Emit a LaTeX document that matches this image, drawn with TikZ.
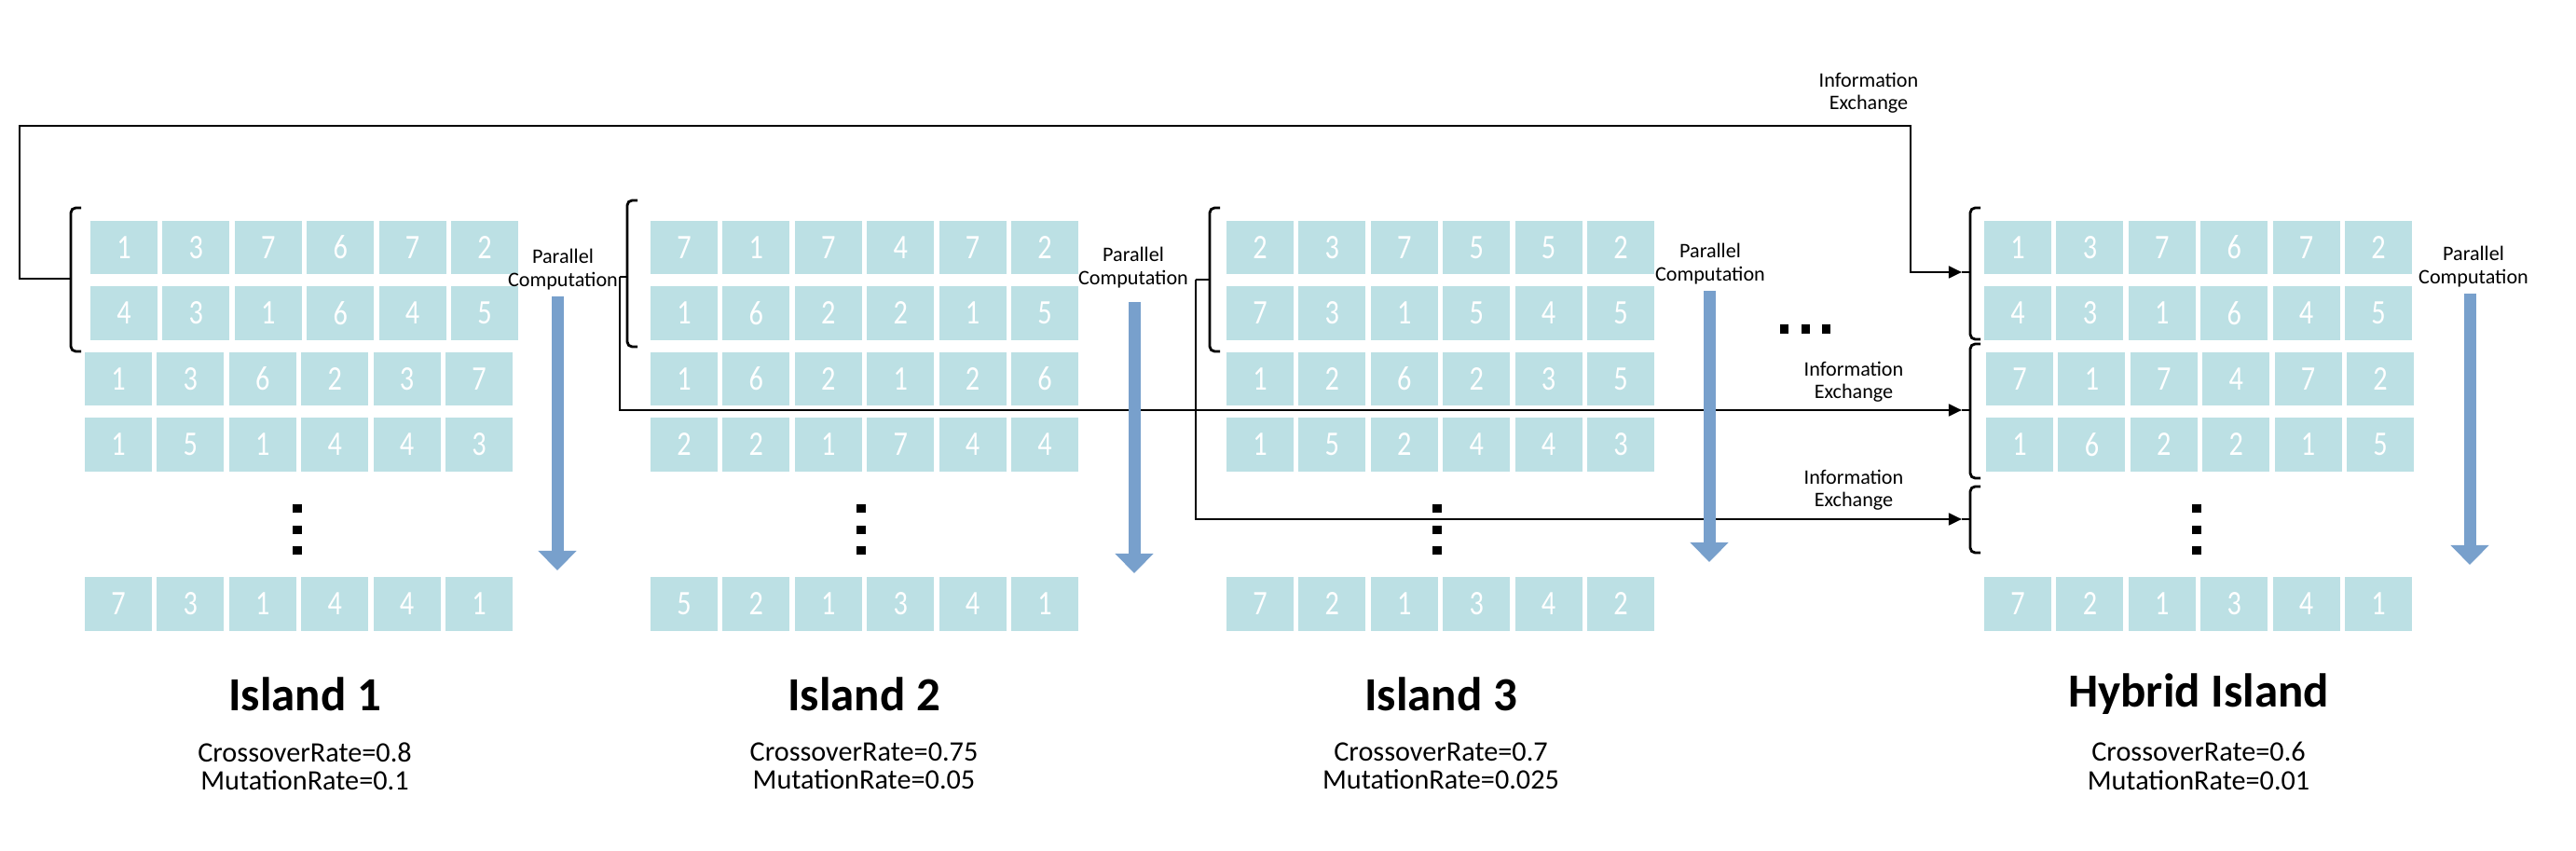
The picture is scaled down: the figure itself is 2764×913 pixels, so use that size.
\documentclass[tikz,border=0pt]{standalone}
\usepackage{fontspec}
\setmainfont{Carlito}
\newfontfamily\cellfont[FakeStretch=0.82]{Carlito}
\usetikzlibrary{arrows.meta}

\definecolor{cellfill}{RGB}{188,224,228}
\definecolor{flowblue}{RGB}{120,160,204}

% one row of genes: name, left edge, centre y, values
\newcommand{\CellRow}[4]{
    \foreach \v [count=\c] in {#4}
        \node[cell] (#1c\c) at ({#2+36+(\c-1)*77.4},#3) {\v};
}
% square bracket: tip name, x, top, bottom, tip y, tip x
\newcommand{\Bracket}[6]{
    \draw[link, rounded corners=1.5pt] (#2+11,#3) -- (#2,#3) -- (#2,#4) -- (#2+11,#4);
    \draw[link] (#2,#5) -- (#6,#5) coordinate (#1);
}
% vertical dots
\newcommand{\VDots}[1]{
    \foreach \dy in {546,569,591}
        \fill (#1-5,\dy-4.5) rectangle ++(10,9);
}

\begin{document}
\begin{tikzpicture}[x=0.01cm, y=-0.01cm,
    cell/.style={fill=cellfill, text=white, minimum width=0.72cm, minimum height=0.57cm,
        inner sep=0pt, font=\cellfont\fontsize{10.5}{10.5}\selectfont},
    link/.style={line width=0.8pt},
    tipto/.style={link, -{Triangle[length=4pt, width=3.6pt]}},
    flow/.style={draw=flowblue, line width=3.7pt, -{Triangle[length=6pt, width=11.4pt]}},
    note/.style={align=center, inner sep=0pt, font=\fontsize{6.3}{6.9}\selectfont},
    title/.style={inner sep=0pt, font=\fontsize{14.5}{14.5}\selectfont\bfseries},
    rates/.style={align=center, inner sep=0pt, font=\fontsize{8.6}{8.6}\selectfont}]
    \useasboundingbox (0,0) rectangle (2764,913);

    % Island 1
    \CellRow{ia}{97}{265.5}{1,3,7,6,7,2}
    \CellRow{ib}{97}{336}{4,3,1,6,4,5}
    \CellRow{ic}{91}{406.5}{1,3,6,2,3,7}
    \CellRow{id}{91}{477}{1,5,1,4,4,3}
    \CellRow{ie}{91}{648}{7,3,1,4,4,1}
    \VDots{319}

    % Island 2
    \CellRow{iia}{698}{265.5}{7,1,7,4,7,2}
    \CellRow{iib}{698}{336}{1,6,2,2,1,5}
    \CellRow{iic}{698}{406.5}{1,6,2,1,2,6}
    \CellRow{iid}{698}{477}{2,2,1,7,4,4}
    \CellRow{iie}{698}{648}{5,2,1,3,4,1}
    \VDots{924}

    % Island 3
    \CellRow{iiia}{1316}{265.5}{2,3,7,5,5,2}
    \CellRow{iiib}{1316}{336}{7,3,1,5,4,5}
    \CellRow{iiic}{1316}{406.5}{1,2,6,2,3,5}
    \CellRow{iiid}{1316}{477}{1,5,2,4,4,3}
    \CellRow{iiie}{1316}{648}{7,2,1,3,4,2}
    \VDots{1542}

    % Hybrid island
    \CellRow{ha}{2129}{265.5}{1,3,7,6,7,2}
    \CellRow{hb}{2129}{336}{4,3,1,6,4,5}
    \CellRow{hc}{2131}{406.5}{7,1,7,4,7,2}
    \CellRow{hd}{2131}{477}{1,6,2,2,1,5}
    \CellRow{he}{2129}{648}{7,2,1,3,4,1}
    \VDots{2357}

    % more islands
    \foreach \dx in {1914,1937,1959}
        \fill (\dx-4.5,348) rectangle ++(9,10);

    % brackets
    \Bracket{bra}{76}{223}{377}{299}{69}
    \Bracket{brb}{673}{215}{372}{297}{665}
    \Bracket{brc}{1298}{223}{377}{300}{1283}
    \Bracket{hba}{2114}{223}{364}{292}{2105}
    \Bracket{hbb}{2114}{369}{513}{440}{2105}
    \Bracket{hbc}{2114}{522}{593}{557}{2105}

    % information exchange
    \draw[tipto] (bra) -| (21,135) -| (2050,292) -- (hba);
    \draw[tipto] (brb) |- (hbb);
    \draw[tipto] (brc) |- (hbc);
    \node[note] (exa) at (2005,100) {Information\\Exchange};
    \node[note] (exb) at (1989,410) {Information\\Exchange};
    \node[note] (exc) at (1989,526) {Information\\Exchange};

    % parallel computation
    \draw[flow] (598,318) -- (598,612);
    \draw[flow] (1217,324) -- (1217,615);
    \draw[flow] (1834,312) -- (1834,603);
    \draw[flow] (2650,315) -- (2650,606);
    \node[note] (pca) at (604,289) {Parallel\\Computation};
    \node[note] (pcb) at (1216,287) {Parallel\\Computation};
    \node[note] (pcc) at (1835,283) {Parallel\\Computation};
    \node[note] (pcd) at (2654,286) {Parallel\\Computation};

    % labels
    \node[title] (ta) at (327,745) {Island 1};
    \node[title] (tb) at (927,745) {Island 2};
    \node[title] (tc) at (1546,745) {Island 3};
    \node[title] (td) at (2359,745) {Hybrid Island};
    \node[rates] (ra) at (327,822) {CrossoverRate=0.8\\MutationRate=0.1};
    \node[rates] (rb) at (927,822) {CrossoverRate=0.75\\MutationRate=0.05};
    \node[rates] (rc) at (1546,822) {CrossoverRate=0.7\\MutationRate=0.025};
    \node[rates] (rd) at (2359,822) {CrossoverRate=0.6\\MutationRate=0.01};
\end{tikzpicture}
\end{document}
